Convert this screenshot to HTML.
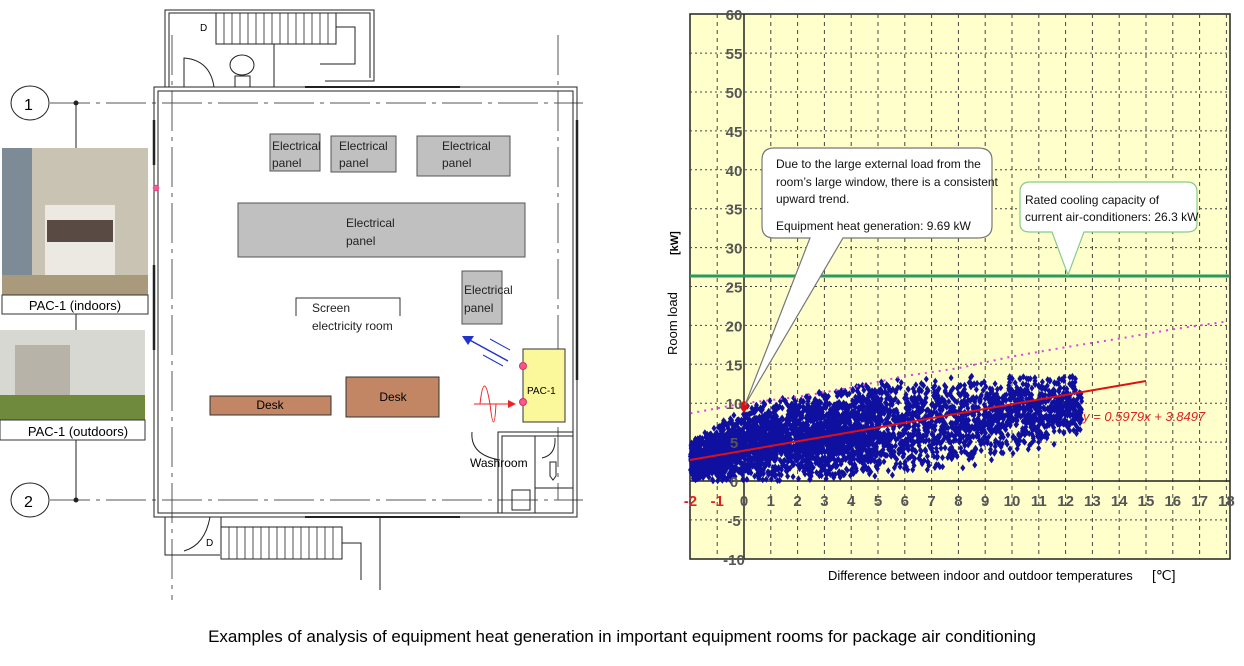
<!DOCTYPE html>
<html><head><meta charset="utf-8"><style>
body{margin:0;background:#fff;width:1244px;height:661px;overflow:hidden;font-family:"Liberation Sans",sans-serif}
svg text{font-family:"Liberation Sans",sans-serif}
</style></head><body>
<svg id="s" width="1244" height="661" viewBox="0 0 1244 661" xmlns="http://www.w3.org/2000/svg">
<g fill="none" stroke="#222" stroke-width="1">
 <line x1="50" y1="103" x2="583" y2="103" stroke="#555" stroke-dasharray="40,6,4,6"/>
 <line x1="50" y1="500" x2="583" y2="500" stroke="#555" stroke-dasharray="40,6,4,6"/>
 <line x1="76" y1="103" x2="76" y2="500"/>
 <circle cx="76" cy="103" r="2" fill="#222"/><circle cx="76" cy="500" r="2" fill="#222"/>
 <ellipse cx="30" cy="103" rx="19" ry="17"/>
 <ellipse cx="30" cy="500" rx="19" ry="17"/>
 <line x1="172" y1="35" x2="172" y2="600" stroke="#555" stroke-dasharray="40,6,4,6"/>
 <line x1="558" y1="35" x2="558" y2="500" stroke="#555" stroke-dasharray="40,6,4,6"/>
 <rect x="154" y="87" width="423" height="430"/>
 <rect x="158" y="91" width="415" height="422"/>
 <polyline points="165,87 165,10 374,10 374,81 325,81"/>
 <polyline points="169,87 169,13 370,13 370,78"/>
 <rect x="216" y="13" width="120" height="31"/>
 <g stroke-width="0.8">
 <line x1="224" y1="13" x2="224" y2="44"/><line x1="232" y1="13" x2="232" y2="44"/><line x1="240" y1="13" x2="240" y2="44"/><line x1="248" y1="13" x2="248" y2="44"/><line x1="256" y1="13" x2="256" y2="44"/><line x1="264" y1="13" x2="264" y2="44"/><line x1="272" y1="13" x2="272" y2="44"/><line x1="280" y1="13" x2="280" y2="44"/><line x1="288" y1="13" x2="288" y2="44"/><line x1="296" y1="13" x2="296" y2="44"/><line x1="304" y1="13" x2="304" y2="44"/><line x1="312" y1="13" x2="312" y2="44"/><line x1="320" y1="13" x2="320" y2="44"/><line x1="328" y1="13" x2="328" y2="44"/>
 </g>
 <polyline points="336,27 355,27 355,64 320,64"/>
 <line x1="274" y1="44" x2="274" y2="87"/>
 <path d="M184 87 L184 58 Q210 60 214 87"/>
 <ellipse cx="242" cy="65" rx="12" ry="10"/>
 <rect x="235" y="76" width="15" height="11"/>
 <line x1="305" y1="87" x2="460" y2="87" stroke-width="2"/>
 <polyline points="165,517 165,555 220,555"/>
 <polyline points="221,517 221,555"/>
 <polyline points="380,517 380,590"/>
 <rect x="221" y="527" width="121" height="32"/>
 <g stroke-width="0.8">
 <line x1="229" y1="527" x2="229" y2="559"/><line x1="237" y1="527" x2="237" y2="559"/><line x1="245" y1="527" x2="245" y2="559"/><line x1="253" y1="527" x2="253" y2="559"/><line x1="261" y1="527" x2="261" y2="559"/><line x1="269" y1="527" x2="269" y2="559"/><line x1="277" y1="527" x2="277" y2="559"/><line x1="285" y1="527" x2="285" y2="559"/><line x1="293" y1="527" x2="293" y2="559"/><line x1="301" y1="527" x2="301" y2="559"/><line x1="309" y1="527" x2="309" y2="559"/><line x1="317" y1="527" x2="317" y2="559"/><line x1="325" y1="527" x2="325" y2="559"/><line x1="333" y1="527" x2="333" y2="559"/>
 </g>
 <polyline points="342,543 361,543 361,580"/>
 <path d="M184 551 Q205 545 210 517"/>
 <line x1="305" y1="517" x2="460" y2="517" stroke-width="2"/>
 <polyline points="498,513 498,432 573,432"/>
 <polyline points="502,513 502,436 573,436"/>
 <polyline points="535,436 535,513"/>
 <line x1="535" y1="488" x2="573" y2="488"/>
 <path d="M472 432 Q470 455 500 460"/>
 <rect x="512" y="490" width="18" height="20"/>
 <path d="M550 462 L556 462 L556 476 L553 480 L550 476 Z"/>
 <path d="M555 438 Q556 455 542 458"/>
 <line x1="154" y1="120" x2="154" y2="165" stroke-width="2.5"/>
 <line x1="154" y1="265" x2="154" y2="350" stroke-width="2.5"/>
 <line x1="577" y1="120" x2="577" y2="380" stroke-width="2.5"/>
</g>
<rect x="2" y="148" width="146" height="147" fill="#c9c3b4"/>
<rect x="2" y="148" width="30" height="147" fill="#7d8b97"/>
<rect x="45" y="205" width="70" height="80" fill="#ece9e2"/>
<rect x="47" y="220" width="66" height="22" fill="#5a4a44"/>
<rect x="45" y="276" width="70" height="9" fill="#222"/>
<rect x="2" y="275" width="146" height="20" fill="#a89a7a"/>
<rect x="2" y="295" width="146" height="19" fill="#fff" stroke="#333"/>
<text x="75" y="310" font-size="13" text-anchor="middle">PAC-1 (indoors)</text>
<rect x="0" y="330" width="145" height="90" fill="#d8d8d2"/>
<rect x="15" y="345" width="55" height="60" fill="#b7b3a8"/>
<rect x="0" y="395" width="145" height="25" fill="#6f8a3d"/>
<rect x="0" y="420" width="145" height="20" fill="#fff" stroke="#333"/>
<text x="78" y="436" font-size="13" text-anchor="middle">PAC-1 (outdoors)</text>
<circle cx="156" cy="188" r="3" fill="#f59" stroke="#c36" stroke-width="0.5"/>
<text x="24" y="110" font-size="16">1</text>
<text x="24" y="507" font-size="16">2</text>
<text x="200" y="31" font-size="10">D</text>
<text x="206" y="546" font-size="10">D</text>
<g fill="#c0c0c0" stroke="#555">
<rect x="270" y="134" width="50" height="37"/>
<rect x="331" y="136" width="65" height="36"/>
<rect x="417" y="136" width="93" height="40"/>
<rect x="238" y="203" width="287" height="54"/>
<rect x="462" y="271" width="40" height="53"/>
</g>
<g font-size="12" fill="#222">
<text x="272" y="150">Electrical</text><text x="272" y="167">panel</text>
<text x="339" y="150">Electrical</text><text x="339" y="167">panel</text>
<text x="442" y="150">Electrical</text><text x="442" y="167">panel</text>
<text x="346" y="227">Electrical</text><text x="346" y="245">panel</text>
<text x="464" y="294">Electrical</text><text x="464" y="312">panel</text>
<text x="312" y="312">Screen</text><text x="312" y="330">electricity room</text>
</g>
<polyline points="296,316 296,298 400,298 400,316" fill="none" stroke="#333"/>
<rect x="210" y="396" width="121" height="19" fill="#c28665" stroke="#333"/>
<rect x="346" y="377" width="93" height="40" fill="#c28665" stroke="#333"/>
<text x="270" y="409" font-size="12" text-anchor="middle">Desk</text>
<text x="393" y="401" font-size="12" text-anchor="middle">Desk</text>
<rect x="523" y="349" width="42" height="73" fill="#fbf79b" stroke="#333"/>
<text x="527" y="394" font-size="10">PAC-1</text>
<circle cx="523" cy="366" r="3.5" fill="#f58" stroke="#c36"/>
<circle cx="523" cy="402" r="3.5" fill="#f58" stroke="#c36"/>
<g stroke="#2233cc" stroke-width="1.5" fill="none">
<line x1="508" y1="361" x2="466" y2="338"/>
<line x1="510" y1="350" x2="490" y2="339" stroke-width="1"/>
<line x1="503" y1="366" x2="483" y2="355" stroke-width="1"/>
</g>
<polygon points="462,336 474,336 468,345" fill="#2233cc"/>
<g stroke="#e22" stroke-width="1" fill="none">
<line x1="474" y1="404" x2="515" y2="404"/>
<path d="M480 404 Q484 368 490 404 Q494 440 496 404"/>
</g>
<polygon points="516,404 508,400 508,408" fill="#e22"/>
<text x="470" y="467" font-size="12">Washroom</text>

<rect x="690" y="14" width="540" height="545" fill="#ffffcc" stroke="#222" stroke-width="1.5"/>
<g id="grid"></g>
<line x1="744" y1="14" x2="744" y2="559" stroke="#222" stroke-width="1.5"/>
<line x1="690" y1="481" x2="1230" y2="481" stroke="#222" stroke-width="1.5"/>
<line x1="690" y1="276" x2="1230" y2="276" stroke="#2a9a5a" stroke-width="3"/>
<g id="pts"></g>
<polyline id="pink" fill="none" stroke="#e040e0" stroke-width="2" stroke-dasharray="2,5"/>
<line x1="690" y1="460" x2="1146" y2="381" stroke="#e01010" stroke-width="2"/>
<polygon points="744,400 749,406 744,413 739,406" fill="#e01010"/>
<text x="1083" y="421" font-size="13" fill="#e02020" font-style="italic">y = 0.5979x + 3.8497</text>
<g id="labels" font-size="15" fill="#555" font-weight="bold"></g>
<path d="M774 148 H978 Q992 148 992 160 V226 Q992 238 978 238 H843 L745 405 L810 238 H774 Q762 238 762 226 V160 Q762 148 774 148 Z" fill="#fff" stroke="#777" stroke-width="1.2"/>
<text font-size="12" fill="#111"><tspan x="776" y="168">Due to the large external load from the</tspan><tspan x="776" y="186">room’s large window, there is a consistent</tspan><tspan x="776" y="203">upward trend.</tspan><tspan x="776" y="230">Equipment heat generation: 9.69 kW</tspan></text>
<path d="M1030 182 H1187 Q1197 182 1197 192 V224 Q1197 232 1187 232 H1084 L1068 275 L1052 232 H1030 Q1020 232 1020 224 V192 Q1020 182 1030 182 Z" fill="#fff" stroke="#8c8" stroke-width="1.2"/>
<text font-size="12" fill="#111"><tspan x="1025" y="204">Rated cooling capacity of</tspan><tspan x="1025" y="221">current air-conditioners: 26.3 kW</tspan></text>
<text transform="translate(677,355) rotate(-90)" font-size="13">Room load</text>
<text transform="translate(678,255) rotate(-90)" font-size="11" font-weight="bold">[kW]</text>
<text x="828" y="580" font-size="13">Difference between indoor and outdoor temperatures</text>
<text x="1152" y="580" font-size="14">[℃]</text>
<text x="622" y="642" font-size="17" text-anchor="middle">Examples of analysis of equipment heat generation in important equipment rooms for package air conditioning</text>
</svg>
<script>
var NS="http://www.w3.org/2000/svg";
function X(v){return 744+v*26.8}function Y(v){return 481-v*7.78}
function el(p,t,a){var e=document.createElementNS(NS,t);for(var k in a)e.setAttribute(k,a[k]);p.appendChild(e);return e}
var g=document.getElementById('grid');
for(var i=-1;i<=18;i++){if(i==0)continue;el(g,'line',{x1:X(i),y1:14,x2:X(i),y2:559,stroke:'#444','stroke-width':1,'stroke-dasharray':'4,4'})}
for(var j=-5;j<=55;j+=5){if(j==0)continue;el(g,'line',{x1:690,y1:Y(j),x2:1230,y2:Y(j),stroke:'#444','stroke-width':1,'stroke-dasharray':'2,3'})}
var L=document.getElementById('labels');
for(var j=-10;j<=60;j+=5){var t=el(L,'text',{x:734,y:Y(j)+6,'text-anchor':'middle'});t.textContent=j}
for(var i=-2;i<=18;i++){var t=el(L,'text',{x:X(i),y:506,'text-anchor':'middle',fill:i<0?'#e02020':'#555'});t.textContent=i}
var s=12345;function r(){s=(s*16807)%2147483647;return s/2147483647}
var P=document.getElementById('pts'),d='';
function up(x){return x<0?5+2.25*(x+2):Math.min(13.5,9.8+0.6*x)}
function lo(x){return x<3?0:(x<8?0.3*(x-3):1.5+0.9*(x-8))}
for(var k=0;k<4200;k++){var x=-2+r()*14.6;if(r()<0.35)x=-2+r()*7;
var l=lo(x),u=up(x);var t=(r()+r())/2;var y=l+t*(u-l);if(r()<0.15)y=l+r()*(u-l);
var px=X(x),py=Y(y);d+='M'+(px-2.5).toFixed(1)+' '+py.toFixed(1)+'l2.5 -3.5l2.5 3.5l-2.5 3.5z'}
el(P,'path',{d:d,fill:'#1010a0'});
var pp=[[-2,8.7],[0,10],[2,10.8],[4,12],[6,13.5],[8,14.5],[10,16],[12,17.2],[14,18.3],[16,19.5],[18,20.5]].map(function(p){return X(p[0])+','+Y(p[1])});
document.getElementById('pink').setAttribute('points',pp.join(' '));
</script>
</body></html>
